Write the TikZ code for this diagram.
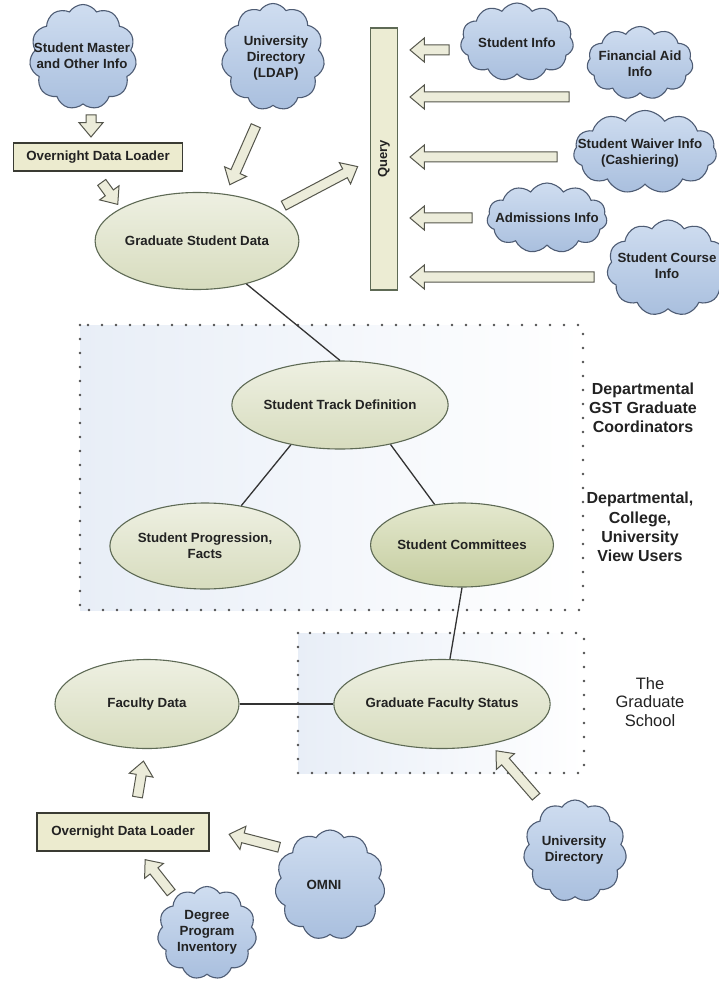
\documentclass[tikz,border=0pt]{standalone}
\usepackage{fontspec}
\setmainfont{Liberation Sans}
\usetikzlibrary{shapes.geometric,shapes.symbols,shapes.arrows,calc}

\definecolor{cloudtop}{HTML}{CFDDF0}
\definecolor{cloudbot}{HTML}{A9BFDE}
\definecolor{cloudline}{HTML}{4E5C74}
\definecolor{elltop}{HTML}{EEF0E2}
\definecolor{ellbot}{HTML}{D7DCBE}
\definecolor{elldarktop}{HTML}{E4E8CE}
\definecolor{elldarkbot}{HTML}{C5CDA0}
\definecolor{ellline}{HTML}{5E6A55}
\definecolor{boxfill}{HTML}{ECEBCF}
\definecolor{boxline}{HTML}{3A3B33}
\definecolor{arrfill}{HTML}{ECECDA}
\definecolor{arrline}{HTML}{55564C}
\definecolor{txt}{HTML}{222222}
\definecolor{zonetint}{HTML}{E8EEF7}
\definecolor{dotcol}{HTML}{505050}

\tikzset{
  cloudnode/.style={cloud, cloud puffs=11, cloud puff arc=115, cloud ignores aspect,
    draw=cloudline, line width=1.1pt, top color=cloudtop, bottom color=cloudbot, inner sep=0pt},
  cloudtext/.style={font=\fontsize{13.3}{16}\selectfont\bfseries, text=txt, align=center, inner sep=0pt},
  ellnode/.style={ellipse, draw=ellline, line width=1.1pt, top color=elltop, bottom color=ellbot,
    inner sep=0pt, font=\fontsize{13.3}{16}\selectfont\bfseries, text=txt, align=center},
  loaderbox/.style={rectangle, draw=boxline, line width=1.6pt, fill=boxfill,
    font=\fontsize{13.3}{16}\selectfont\bfseries, text=txt, inner sep=0pt},
  querybar/.style={rectangle, draw=ellline, line width=1.3pt, fill=boxfill!80!elltop,
    font=\fontsize{13}{16}\selectfont\bfseries, text=txt, inner sep=0pt},
  barrow/.style={single arrow, draw=arrline, line width=1pt, fill=arrfill, inner sep=4.5pt,
    single arrow head extend=7pt, single arrow tip angle=80, single arrow head indent=0pt,
    minimum width=0pt, outer sep=0pt},
  linkline/.style={draw=black!80, line width=1.3pt},
  zone/.style={draw=dotcol, line width=2.6pt, line cap=round, dash pattern=on 0pt off 14pt},
  zonelabel/.style={font=\fontsize{16}{19.2}\selectfont\bfseries, text=txt, align=center},
  zonelabelreg/.style={font=\fontsize{16.5}{18.8}\selectfont, text=txt, align=center},
}

\newcommand{\blockarr}[2]{%
  \path let \p1=($(#2)-(#1)$), \n1={atan2(\y1,\x1)}, \n2={veclen(\x1,\y1)} in
    node[barrow, rotate=\n1, minimum height=\n2] at ($(#1)!0.5!(#2)$) {};}

\begin{document}
\begin{tikzpicture}[x=1pt,y=-1pt]
\useasboundingbox (0,0) rectangle (718,981);
\fill[white] (0,0) rectangle (718,981);

% zones
\shade[left color=zonetint, middle color=white, right color=white] (80,325) rectangle (583,610);
\shade[left color=zonetint, middle color=white, right color=white] (298,633) rectangle (584,773);
\draw[zone] (80,325) rectangle (583,610);
\draw[zone] (298,633) rectangle (584,773);

% ellipses
\node[ellnode, minimum width=191, minimum height=97] (gsd) at (197,241) {Graduate Student Data};
\node[ellnode, minimum width=198, minimum height=88] (std) at (340,405) {Student Track Definition};
\node[ellnode, minimum width=176, minimum height=86] (spf) at (205,546) {Student Progression,\\Facts};
\node[ellnode, minimum width=171, minimum height=84, top color=elldarktop, bottom color=elldarkbot] (sc) at (462,545) {Student Committees};
\node[ellnode, minimum width=184, minimum height=89] (fd) at (147,704) {Faculty Data};
\node[ellnode, minimum width=181, minimum height=89] (gfs) at (442,704) {Graduate Faculty Status};

% links
\draw[linkline] (gsd.-41.5) -- (std.north);
\draw[linkline] (std.219.7) -- (spf.48);
\draw[linkline] (std.-38) -- (sc.124);
\draw[linkline] (sc.south) -- (gfs.80);
\draw[linkline] (fd.east) -- (gfs.west);

% boxes
\node[loaderbox, minimum width=169, minimum height=28] (ldr1) at (98,157) {Overnight Data Loader};
\node[loaderbox, minimum width=172, minimum height=38] (ldr2) at (123,832) {Overnight Data Loader};
\node[querybar, rotate=90, minimum width=262, minimum height=27] (query) at (384,159) {Query};

% clouds
\node[cloudnode, minimum width=107, minimum height=105] (sm) at (83,57) {};
\node[cloudtext] at (82,56) {Student Master\\and Other Info};
\node[cloudnode, minimum width=103, minimum height=107] (ldap) at (273,57) {};
\node[cloudtext] at (276,58) {University\\Directory\\(LDAP)};
\node[cloudnode, minimum width=113, minimum height=78] (si) at (517,42) {};
\node[cloudtext] at (517,43) {Student Info};
\node[cloudnode, minimum width=106, minimum height=73] (fa) at (640,63) {};
\node[cloudtext] at (640,64) {Financial Aid\\Info};
\node[cloudnode, minimum width=143, minimum height=83] (sw) at (645,152) {};
\node[cloudtext] at (640,153) {Student Waiver Info\\(Cashiering)};
\node[cloudnode, minimum width=120, minimum height=70] (ai) at (547,218) {};
\node[cloudtext] at (547,218) {Admissions Info};
\node[cloudnode, minimum width=122, minimum height=96] (sci) at (668,268) {};
\node[cloudtext] at (667,266) {Student Course\\Info};
\node[cloudnode, minimum width=99, minimum height=93] (dpi) at (207,933) {};
\node[cloudtext] at (207,932) {Degree\\Program\\Inventory};
\node[cloudnode, minimum width=110, minimum height=110] (omni) at (330,885) {};
\node[cloudtext] at (324,885) {OMNI};
\node[cloudnode, minimum width=103, minimum height=102] (ud) at (575,851) {};
\node[cloudtext] at (574,850) {University\\Directory};

% block arrows (tail -> head)
\coordinate (a1s) at (91,112);  \coordinate (a1e) at (91,134);
\coordinate (a2s) at (100,180); \coordinate (a2e) at (116,202);
\coordinate (a3s) at (257,123); \coordinate (a3e) at (231,182);
\coordinate (a4s) at (281,207); \coordinate (a4e) at (355,168);
\coordinate (q1s) at (452,50);  \coordinate (q1e) at (413,50);
\coordinate (q2s) at (572,97);  \coordinate (q2e) at (413,97);
\coordinate (q3s) at (560,157); \coordinate (q3e) at (413,157);
\coordinate (q4s) at (475,218); \coordinate (q4e) at (413,218);
\coordinate (q5s) at (597,277); \coordinate (q5e) at (413,277);
\coordinate (b1s) at (137,800); \coordinate (b1e) at (143,764);
\coordinate (b2s) at (282,848); \coordinate (b2e) at (232,835);
\coordinate (b3s) at (173,895); \coordinate (b3e) at (147,862);
\coordinate (b4s) at (538,799); \coordinate (b4e) at (498,753);
\blockarr{a1s}{a1e}
\blockarr{a2s}{a2e}
\blockarr{a3s}{a3e}
\blockarr{a4s}{a4e}
\blockarr{q1s}{q1e}
\blockarr{q2s}{q2e}
\blockarr{q3s}{q3e}
\blockarr{q4s}{q4e}
\blockarr{q5s}{q5e}
\blockarr{b1s}{b1e}
\blockarr{b2s}{b2e}
\blockarr{b3s}{b3e}
\blockarr{b4s}{b4e}

% zone labels
\node[zonelabel] (lab1) at (643,408) {Departmental\\GST Graduate\\Coordinators};
\node[zonelabel] (lab2) at (640,527) {Departmental,\\College,\\University\\View Users};
\node[zonelabelreg] (lab3) at (650,702) {The\\Graduate\\School};
\end{tikzpicture}
\end{document}
